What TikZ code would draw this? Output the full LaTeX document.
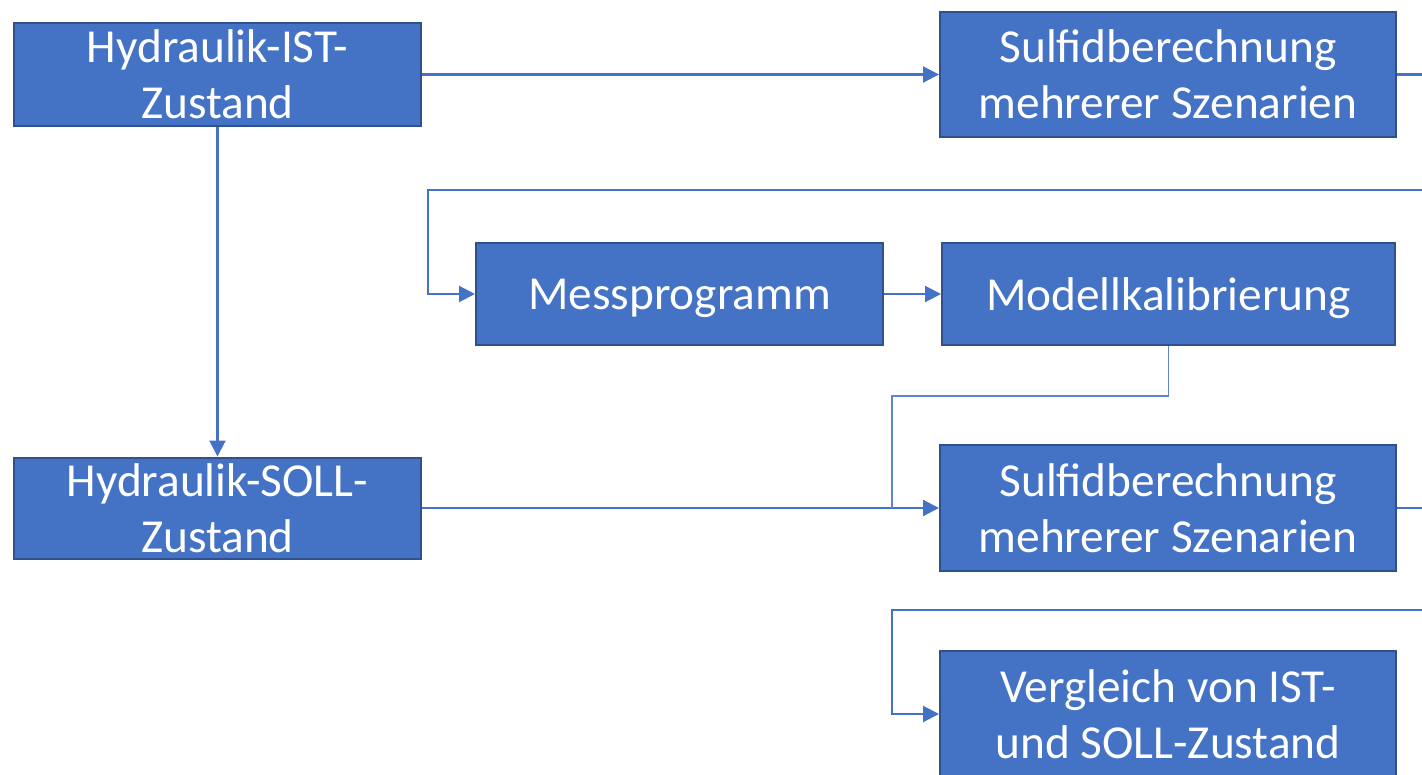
\documentclass[tikz,border=0pt]{standalone}
\usepackage{fontspec}
\setmainfont{Carlito}
\usetikzlibrary{arrows.meta}
\definecolor{boxfill}{HTML}{4472C4}
\definecolor{boxline}{HTML}{2F528F}
\begin{document}
\begin{tikzpicture}[x=0.75pt,y=-0.75pt,
  box/.style={draw=boxline,line width=1.5pt,fill=boxfill,text=white,align=center,inner sep=0pt,
    font=\fontsize{35.5pt}{42pt}\selectfont},
  conn/.style={draw=boxfill,line width=1.6pt},
  thin/.style={draw=boxfill!85,line width=0.8pt},
  arr/.style={-{Triangle[length=12pt,width=12pt]}}]
\useasboundingbox (0,0) rectangle (1422,775);
\node[box,minimum width=407*0.75pt,minimum height=103*0.75pt] (ist) at (217.5,74.5) {Hydraulik-IST-\\Zustand};
\node[box,minimum width=456*0.75pt,minimum height=125*0.75pt] (sulf1) at (1168,74.5) {Sulfidberechnung\\mehrerer Szenarien};
\node[box,text depth=0pt,minimum width=407*0.75pt,minimum height=102*0.75pt] (mess) at (679.5,294) {Messprogramm};
\node[box,text depth=0pt,minimum width=453*0.75pt,minimum height=102*0.75pt] (modell) at (1168.5,294) {Modellkalibrierung};
\node[box,minimum width=407*0.75pt,minimum height=101*0.75pt] (soll) at (217.5,508) {Hydraulik-SOLL-\\Zustand};
\node[box,minimum width=456*0.75pt,minimum height=126*0.75pt] (sulf2) at (1168,508) {Sulfidberechnung\\mehrerer Szenarien};
\node[box,minimum width=456*0.75pt,minimum height=126*0.75pt] (verg) at (1168,714) {Vergleich von IST-\\und SOLL-Zustand};
\coordinate (r1) at (1422,74.5);
\coordinate (r2) at (1422,190);
\coordinate (c2) at (428,190);
\coordinate (r3) at (1422,508);
\coordinate (r4) at (1422,610);
\coordinate (c4) at (892,610);
\coordinate (j) at (892,508);
\draw[conn,arr] (ist.east) -- (sulf1.west);
\draw[conn] (sulf1.east) -- (r1);
\draw[conn,arr] (ist.south) -- (soll.north);
\draw[conn,arr] (r2) -- (c2) |- (mess.west);
\draw[conn,arr] (mess.east) -- (modell.west);
\draw[conn,arr] (soll.east) -- (sulf2.west);
\draw[conn] (sulf2.east) -- (r3);
\draw[thin] (modell.south) -- ++(0,50) -| (j);
\draw[conn,arr] (r4) -- (c4) |- (verg.west);
\end{tikzpicture}
\end{document}
